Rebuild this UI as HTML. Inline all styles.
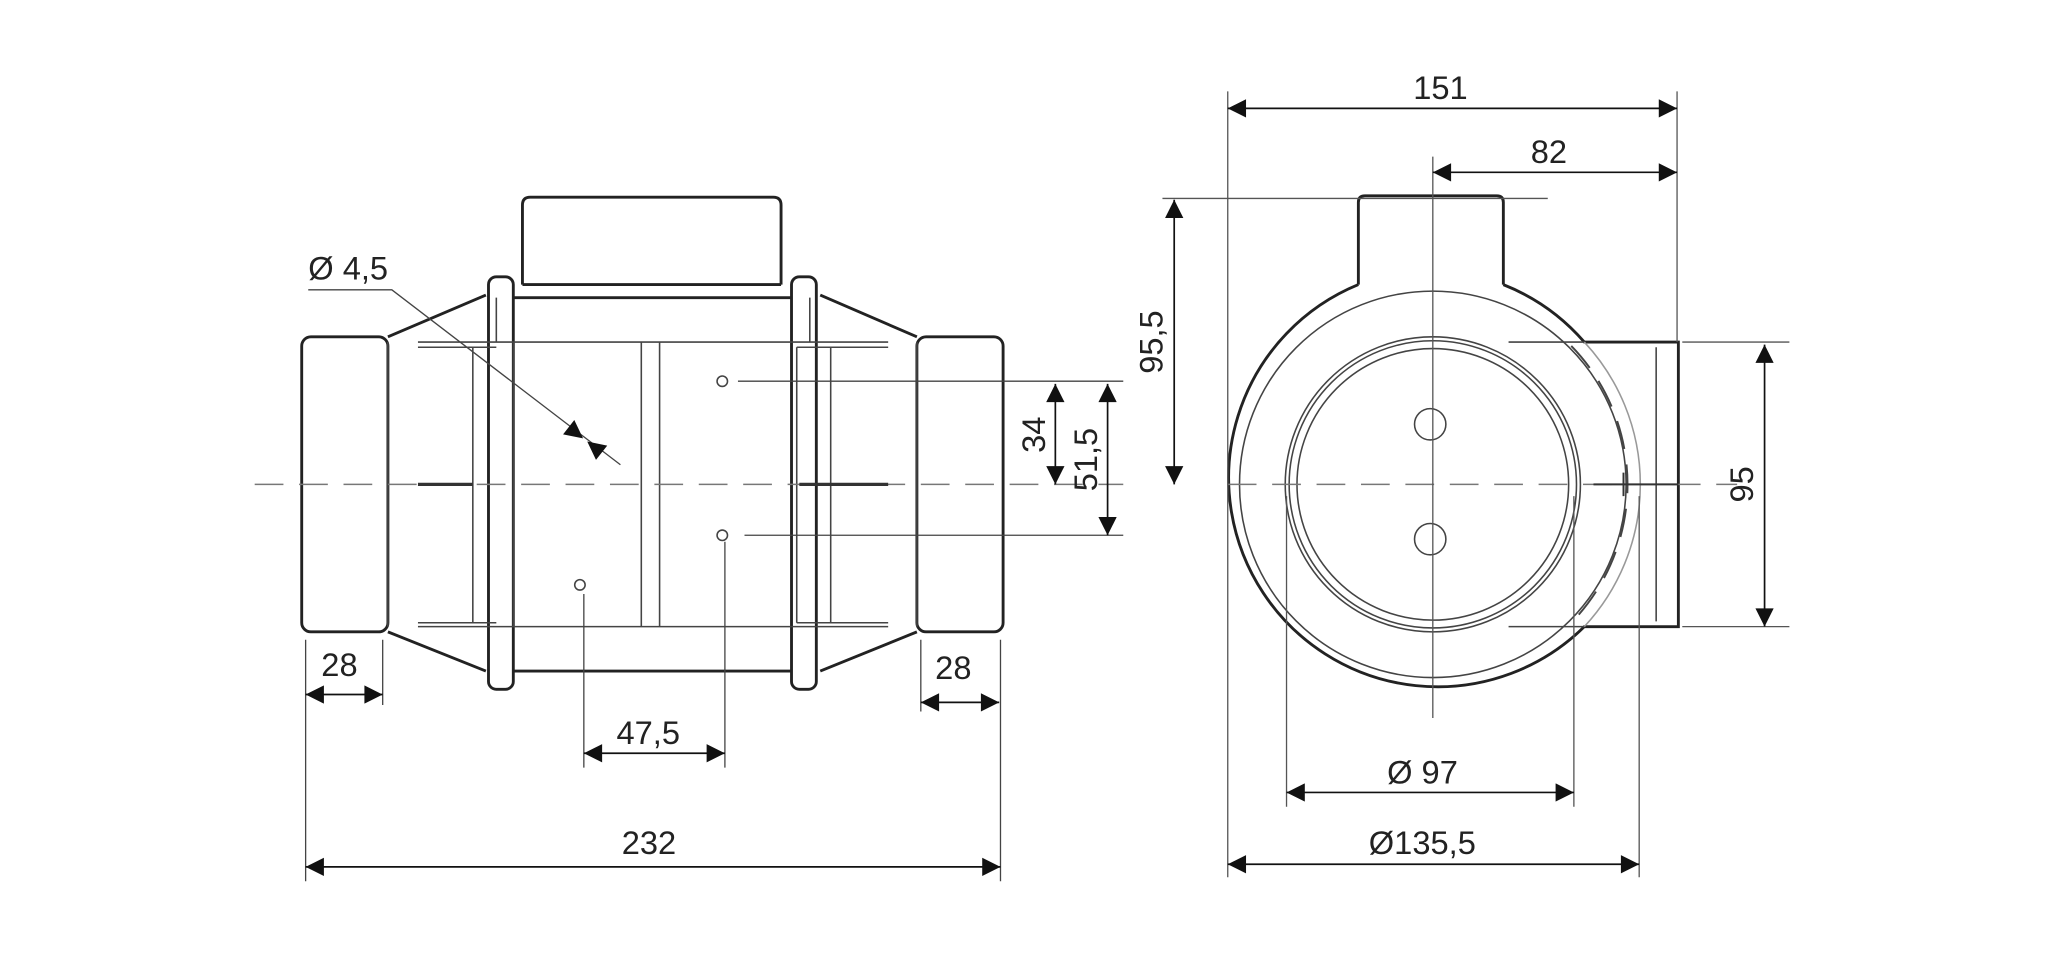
<!DOCTYPE html>
<html><head><meta charset="utf-8"><style>
html,body{margin:0;padding:0;background:#fff;}
svg{display:block;}
text{font-family:"Liberation Sans",sans-serif;font-size:25px;fill:#222;}
</style></head><body>
<svg width="2048" height="970" viewBox="0 0 1568 743" preserveAspectRatio="none" xmlns="http://www.w3.org/2000/svg">
<defs>
<marker id="a" viewBox="0 0 10 10" refX="10" refY="5" markerWidth="20" markerHeight="14" markerUnits="userSpaceOnUse" orient="auto-start-reverse"><path d="M0,0 L10,5 L0,10 z" fill="#111"/></marker>
</defs>
<rect width="1568" height="743" fill="#fff"/>
<g fill="none" stroke="#222" stroke-width="2.2">
<rect x="231" y="258" width="66" height="226" rx="7"/>
<rect x="702" y="258" width="66" height="226" rx="7"/>
<path d="M297,258 L372,226 M297,484 L372,514 M702,258 L628,226 M702,484 L628,514"/>
<rect x="374" y="212" width="19" height="316" rx="6"/>
<rect x="606" y="212" width="19" height="316" rx="6"/>
<path d="M393,228 H606 M393,514 H606"/>
<path d="M400,218 V157 Q400,151 406,151 H592 Q598,151 598,157 V218"/>
<path d="M400,218 H598"/>
</g>
<g fill="none" stroke="#444" stroke-width="1.2">
<path d="M297,262 V480 M702,262 V480"/>
<path d="M320,262 H680 M320,480 H680 M320,266 H380 M610,266 H680 M320,477 H380 M610,477 H680"/>
<path d="M362,266 V477 M393,262 V480 M491,262 V480 M505,262 V480 M610,266 V477 M636,266 V477 M380,228 V262 M620,228 V262"/>
<circle cx="553" cy="292" r="4"/><circle cx="553" cy="410" r="4"/><circle cx="444" cy="448" r="4"/>
</g>
<path d="M195,371 H860" stroke="#777" stroke-width="1.2" stroke-dasharray="22,12" fill="none"/>
<path d="M320,371 H362 M612,371 H680" stroke="#333" stroke-width="2.5"/>
<g stroke="#444" stroke-width="1" fill="none">
<path d="M234,490 V675 M293,490 V540 M766,490 V675 M705,490 V545 M447,455 V588 M555,415 V588"/>
<path d="M565,292 H860 M570,410 H860"/>
<path d="M236,222 H300 L475,356"/>
</g>
<g stroke="#111" stroke-width="1.3" fill="none" marker-start="url(#a)" marker-end="url(#a)">
<path d="M234,532 H293"/>
<path d="M705,538 H765"/>
<path d="M447,577 H555"/>
<path d="M234,664 H766"/>
<path d="M808,294 V371"/>
<path d="M848,294 V410"/>
</g>
<path d="M446.4,335.8 L431.1,332.7 L439.7,321.7 z M449.6,338.2 L456.3,352.3 L464.9,341.3 z" fill="#111"/>
<text x="236" y="214">Ø 4,5</text>
<text x="246" y="518">28</text>
<text x="716" y="520">28</text>
<text x="472" y="570">47,5</text>
<text x="476" y="654">232</text>
<text transform="translate(800,333) rotate(-90)" text-anchor="middle">34</text>
<text transform="translate(840,352) rotate(-90)" text-anchor="middle">51,5</text>
<!-- right view -->
<g fill="none" stroke="#222" stroke-width="2.2">
<path d="M1040,218 V155 Q1040,150 1045,150 H1146 Q1151,150 1151,155 V218"/>
<path d="M1040,218 A160,160 0 1 0 1213,480 H1285 V262 H1213 A160,160 0 0 0 1151,218"/>
</g>
<g fill="none" stroke="#444" stroke-width="1.2">
<circle cx="1097" cy="371" r="148"/>
<circle cx="1097" cy="371" r="113"/>
<circle cx="1097" cy="371" r="110"/>
<circle cx="1097" cy="371" r="104"/>
<circle cx="1095" cy="325" r="12"/>
<circle cx="1095" cy="413" r="12"/>
<path d="M1268,266 V476 M1155,262 H1213 M1155,480 H1213"/>
<path d="M1213,262 A160,160 0 0 1 1213,480" stroke="#999"/>
</g>
<path d="M1203,265 A152,152 0 0 1 1203,477" fill="none" stroke="#444" stroke-width="1.5" stroke-dasharray="22,12"/>
<path d="M940,371 H1330" stroke="#777" stroke-width="1.2" stroke-dasharray="22,12" fill="none"/>
<path d="M1220,371 H1285 M1243,362 V380" stroke="#333" stroke-width="1.5"/>
<g stroke="#555" stroke-width="1" fill="none">
<path d="M1097,120 V550 M940,70 V672 M1284,70 V262 M1255,380 V672 M985,380 V618 M1205,380 V618"/>
<path d="M890,152 H1185 M1288,262 H1370 M1288,480 H1370"/>
</g>
<g stroke="#111" stroke-width="1.3" fill="none" marker-start="url(#a)" marker-end="url(#a)">
<path d="M940,83 H1284"/>
<path d="M1097,132 H1284"/>
<path d="M899,153 V371"/>
<path d="M1351,264 V480"/>
<path d="M985,607 H1205"/>
<path d="M940,662 H1255"/>
</g>
<text x="1082" y="76">151</text>
<text x="1172" y="125">82</text>
<text transform="translate(890,262) rotate(-90)" text-anchor="middle">95,5</text>
<text transform="translate(1342,371) rotate(-90)" text-anchor="middle">95</text>
<text x="1062" y="600">Ø 97</text>
<text x="1048" y="654">Ø135,5</text>
</svg>
</body></html>
